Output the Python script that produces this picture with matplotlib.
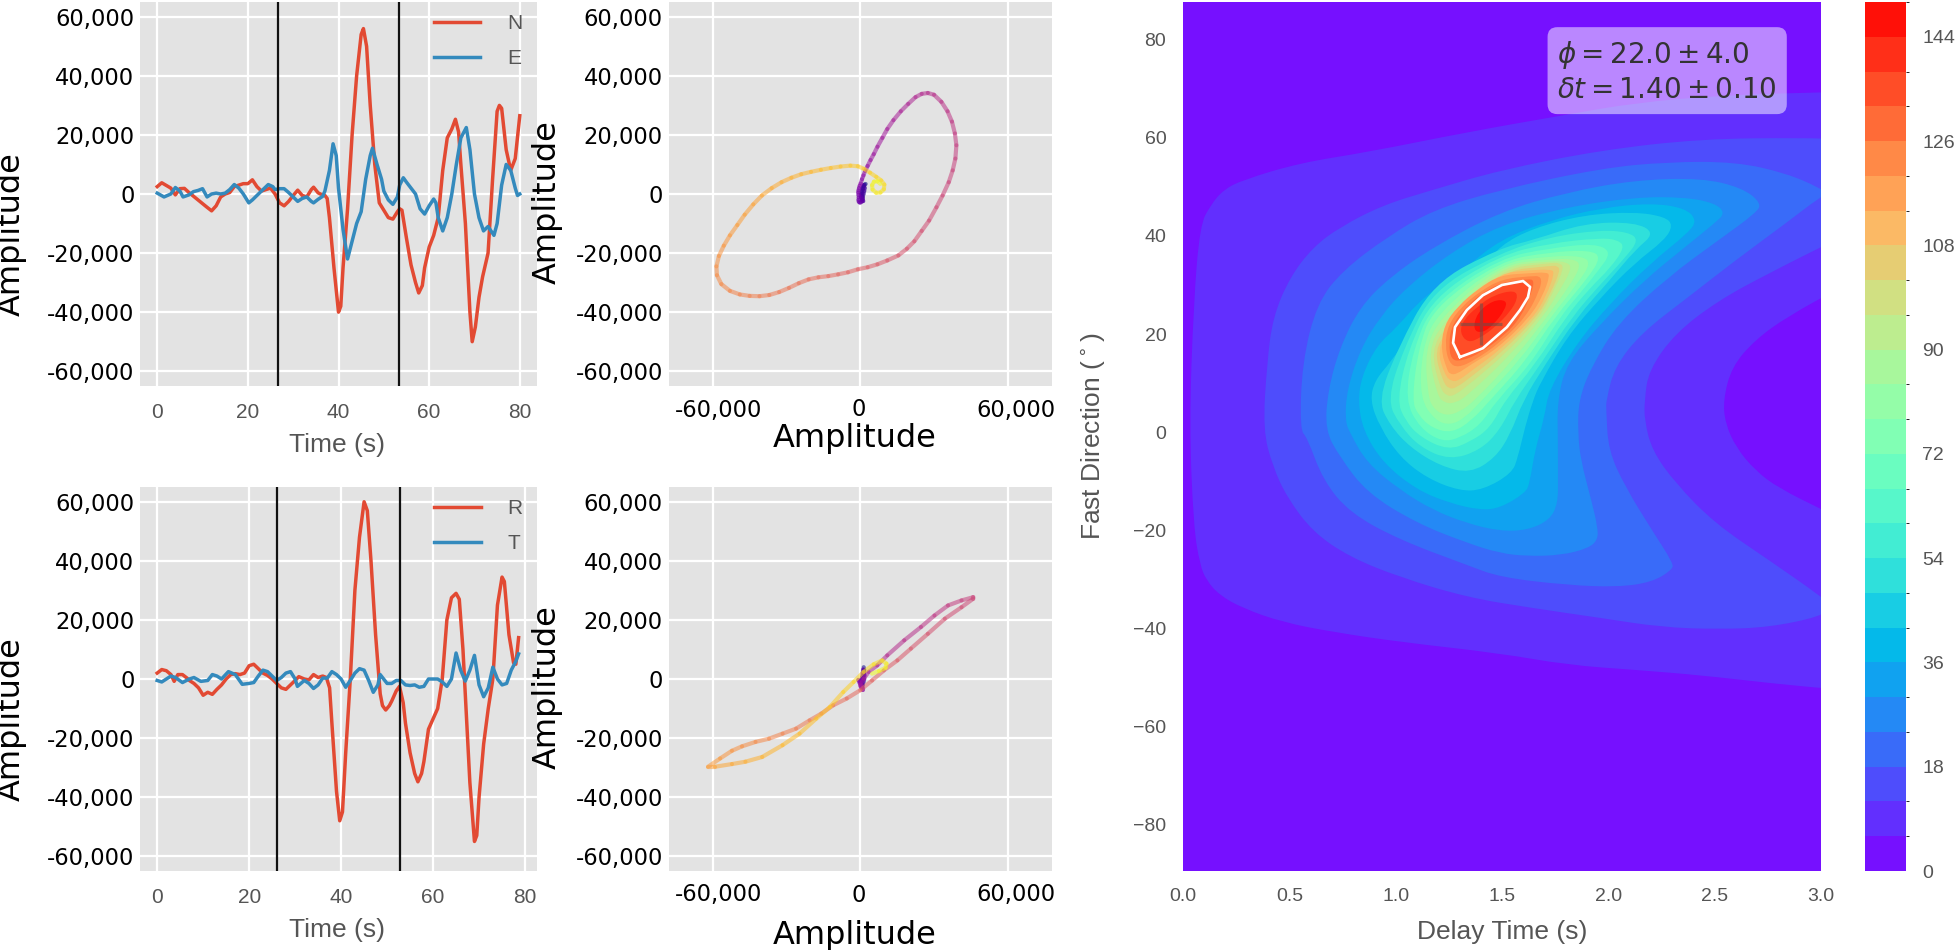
import numpy as np
import matplotlib
matplotlib.use('Agg')
import matplotlib.pyplot as plt
from matplotlib.cm import ScalarMappable
from matplotlib.collections import LineCollection
from matplotlib.colors import BoundaryNorm, ListedColormap
from matplotlib.patches import PathPatch
from matplotlib.path import Path
from matplotlib.transforms import ScaledTranslation

# waveforms
t_ne = [0, 1, 3, 4, 5, 6, 7, 9, 11, 12, 13, 14, 15, 16, 17, 19, 20, 21, 22, 23, 25, 26, 27, 28, 29, 30, 31, 32, 33, 34,
        34.5, 35.5, 36, 37, 37.5, 38, 39, 40, 40.5, 41, 42, 43, 44, 45, 45.5, 46.2, 47, 48, 49, 50, 51, 52, 53, 53.5, 54,
        55, 56, 57, 57.7, 58.5, 59, 60, 61, 62, 63, 64, 65, 65.8, 66.5, 67, 68, 69, 69.5, 70.2, 71, 71.8, 73, 74, 75, 75.5,
        76, 77, 78, 79, 80]
north = [2500, 3800, 2000, -300, 1800, 1900, 500, -2000, -4500, -5700, -4000, -1000, 0, 500, 2500, 3500, 3500, 4800, 2500,
         1000, 2000, 0, -3000, -4000, -2500, -500, 1300, -500, -1000, 1500, 2300, 400, 0, -500, -1500, -8000, -25000, -40000,
         -38000, -25000, -5000, 20000, 40000, 54000, 56000, 50000, 30000, 10000, -3000, -5500, -8000, -8500, -6000, -5000,
         -5500, -15000, -24000, -30000, -33500, -31000, -25000, -18000, -14000, -8000, 8000, 19000, 22000, 25300, 21000,
         10000, -10000, -40000, -50000, -45000, -35000, -28000, -20000, 5000, 28000, 30000, 29000, 15000, 8000, 12000, 26500]
t_e = [0, 1.5, 3, 4, 5, 5.7, 7, 8, 9, 10, 11, 12, 13, 14, 15, 16, 17, 18, 19, 20.2, 21, 22, 23, 24.5, 25.5, 26, 27, 28, 29, 30,
       31, 32, 33, 34, 34.5, 35.5, 36.5, 37, 38, 38.8, 39.5, 40, 41, 42, 43, 44, 45, 46, 47, 47.5, 48.5, 49.5, 50, 51, 52, 53,
       53.5, 54.3, 55, 56, 57, 58, 59, 60, 61, 61.5, 62, 63, 64, 65, 66, 67, 68.2, 69, 70, 71, 72, 73, 74.3, 75, 76, 77, 78, 79,
       79.5, 80]
east = [300, -1000, 0, 2200, 1000, -1000, -300, 800, 1200, 1800, -1000, 0, 300, 0, 300, 1500, 3200, 2000, 0, -3000, -2000,
        -500, 1000, 3200, 2500, 1500, 1800, 1800, 500, -1000, -2500, -1500, -1000, -2500, -3000, -1800, -800, 1000, 8000,
        17000, 13000, 2000, -12000, -22000, -16000, -10000, -6000, 5000, 13000, 15500, 10000, 5000, 1000, -2000, -3500, -1000,
        3000, 5500, 4000, 2000, 0, -5000, -6800, -4000, -1700, -3000, -8000, -12500, -8000, 0, 10000, 19000, 22500, 15000, 0,
        -8000, -12500, -11000, -14000, -10000, 3000, 10000, 8000, 2000, -500, 0]
t_r = [0, 1, 2, 3, 3.7, 4.5, 5.5, 6.5, 7, 8, 9, 10, 11, 12, 13, 14, 15, 16, 17, 18, 19, 20, 21, 22, 23, 24, 25, 26, 27, 28, 29,
       30, 30.8, 32, 33, 34, 35, 36, 36.8, 37.5, 38, 39, 39.7, 40.3, 41, 42, 43, 44, 45, 45.7, 46.5, 47.5, 48.5, 49, 49.7, 50.5,
       51, 52, 52.7, 53.5, 54, 55, 56, 56.7, 57.5, 58, 59, 60, 61, 62, 63, 64, 65, 65.7, 66.5, 67, 68, 69, 69.5, 70, 71, 72, 73,
       74, 75, 75.5, 76.5, 77.5, 78, 78.6]
radial = [2000, 3200, 2800, 1500, -800, 1500, 1500, 300, -500, -1500, -3000, -5500, -4500, -5200, -3500, -2000, 0, 1500, 1800,
          1500, 2000, 4500, 5000, 3500, 2000, 1200, 0, -1500, -3000, -3500, -2000, -500, 800, 0, -300, 1500, 500, 1000, 500,
          -3000, -15000, -38000, -48000, -45000, -25000, 0, 30000, 48000, 60000, 57000, 40000, 15000, -5000, -9000, -10500,
          -9000, -7500, -4000, -2500, -8000, -15000, -25000, -32000, -34800, -32000, -28000, -17000, -13500, -10000, 0, 20000,
          27500, 29000, 27000, 10000, -5000, -35000, -55000, -53000, -40000, -22000, -10000, 0, 25000, 34500, 33000, 15000,
          5500, 5000, 14000]
t_t = [0, 1, 2, 3, 4, 5.5, 7, 8, 9.5, 11, 12, 13, 14, 15.5, 17, 18.5, 20, 21, 22, 23, 24, 25, 26, 27, 28, 29, 30, 30.5, 32, 33,
       34, 35, 36, 37, 38, 39, 40, 41, 42, 43, 44, 45, 46, 47, 48, 48.5, 49, 50, 51, 52, 53, 54, 55, 56, 57, 58, 59, 60, 61, 62,
       63, 64, 65, 66, 67, 68, 69, 70, 71, 72, 73, 74, 75, 76, 77, 78, 78.6]
transverse = [-500, -1000, 0, 1000, 500, -1200, 0, 500, -800, -500, 1500, 1000, 0, 2500, 1500, -1800, -1500, -1200, 1000, 3000,
              2500, 1000, -500, 500, 2000, 2500, 0, -2500, -500, -1500, -3200, -2000, 300, 300, 2500, 1500, 0, -2800, -500,
              2000, 3500, 3000, -500, -4500, -2000, 1500, 500, -1500, -1500, -500, -500, -2000, -2200, -2000, -2800, -2500, 0,
              0, 0, -1000, -2500, 0, 8800, 3000, -700, 3000, 8000, -2000, -6000, -3000, 4000, 0, -2000, -1500, 3000, 6000, 8500]
window_ne = [26.6, 53.35]
window_rt = [26.1, 52.7]

# particle motion, in time order
pm_top_x = [2200, 1800, 1300, 900, 600, 400, 500, 800, 1000, 1300, 1600, 1800, 1500, 1000, 700, 900, 1200, 800, 300, 800, 800,
            300, -200, -600, -700, -600, -700, -800, -700, -500, -200, 200, 700, 1300, 2000, 3000, 4200, 5500, 7000, 9000,
            11000, 13500, 16500, 19500, 22500, 25000, 27500, 30000, 33000, 35500, 37300, 38500, 39100, 38700, 37600, 36000,
            33500, 31000, 28000, 25000, 22000, 19000, 15500, 11000, 7000, 3000, -1000, -5000, -9000, -13000, -17000, -21000,
            -25000, -29000, -33000, -37000, -41000, -45000, -49000, -53000, -56500, -58300, -58500, -57500, -55500, -53000,
            -50000, -47000, -43500, -40000, -36000, -32000, -28000, -24000, -20000, -16000, -12000, -8000, -4000, -1000, 1500,
            4000, 6500, 8500, 9800, 9600, 8200, 6500, 5000, 4800, 5600, 7000, 8200]
pm_top_y = [3400, 3200, 2600, 2000, 1000, 0, -1000, -1800, -1000, 0, 1000, 2000, 3000, 1500, 0, -1500, -2400, -2000, -1000, -1800,
            -2400, -2800, -2900, -2600, -2000, -1200, -300, 500, 1200, 2000, 2800, 3600, 5000, 6300, 7800, 9500, 11500, 13500,
            16000, 19000, 22000, 25000, 28000, 30500, 32800, 33900, 34200, 33600, 31200, 28000, 24500, 20500, 16500, 12000,
            8000, 4000, -500, -4500, -9000, -12500, -16000, -18500, -20800, -22500, -23800, -24800, -25500, -26500, -27200,
            -27800, -28200, -28900, -30200, -31800, -33200, -34200, -34600, -34500, -34000, -32800, -30500, -27500, -24500,
            -21000, -17500, -14000, -10500, -7000, -3500, -500, 2000, 4000, 5500, 6700, 7500, 8200, 8800, 9300, 9600, 9400,
            8500, 7200, 5800, 4600, 3200, 1600, 500, 400, 1500, 3000, 4200, 4300, 3400]
pm_bot_x = [1400, 1600, 1500, 1200, 900, 600, 500, 600, 1000, 1300, 1600, 1700, 1500, 1200, 1000, 700, 400, 200, -200, -800,
            -200, 500, 1000, 1000, 600, 200, 0, 1400, 3400, 6900, 11000, 17900, 24700, 30200, 35700, 41200, 46000, 46000,
            41200, 34400, 27500, 20600, 15100, 9600, 4800, 0, -5500, -11000, -15800, -20600, -26100, -31600, -37100, -42600,
            -48100, -52200, -57000, -61900, -59100, -52200, -46700, -39900, -31600, -24700, -17900, -12400, -6900, -2700,
            1400, 5500, 8900, 10700, 10300, 7600, 4800]
pm_bot_y = [4000, 3000, 2000, 1000, 0, -1000, -2000, -2800, -2000, -1000, 0, 1200, 2400, 3200, 2000, 500, -500, -1200, -800, -300,
            -1400, -2200, -3000, -3700, -3200, -2600, -2100, 100, 2400, 4600, 8000, 13100, 17600, 21500, 24900, 26600, 27700,
            27200, 24300, 20400, 15300, 10300, 6300, 2900, -500, -3800, -6600, -8900, -11700, -14000, -16800, -18500, -20200,
            -21300, -22800, -24300, -26900, -29700, -29700, -28800, -28000, -26400, -22400, -18500, -13400, -9500, -4400,
            -1000, 2400, 5000, 6300, 5200, 3800, 2700, 1800]

# misfit surface: one closed outline per contour level, (delay s, direction deg)
levels = list(range(0, 156, 6))
cbar_ticks = [0, 18, 36, 54, 72, 90, 108, 126, 144]
level_6 = [(.03, 1.6), (.05, 26.3), (.08, 42.2), (.13, 46.3), (.19, 49.4), (.28, 51.4), (.55, 54.9), (.87, 57.1), (1.34, 61.2),
           (1.80, 64.7), (2.12, 67.1), (2.53, 68.7), (3.1, 69.4), (3.3, 69.5), (3.3, 34), (3.1, 29.7), (2.84, 23.5), (2.69, 18.8),
           (2.58, 13.3), (2.54, 6.5), (2.55, 1.8), (2.60, -3.1), (2.69, -7.8), (2.80, -11.4), (3.01, -15.9), (3.2, -20), (3.3, -20),
           (3.3, -52.8), (3.1, -52.6), (2.76, -51.2), (2.44, -49.6), (2.13, -48.5), (1.81, -47.5), (1.49, -45.1), (1.02, -42.8),
           (.71, -40.8), (.47, -38.8), (.28, -35.9), (.17, -33.2), (.11, -30.2), (.08, -27.1), (.05, -19.4)]
level_12 = [(.376, .4), (.395, 14.1), (.423, 23.5), (.503, 31.6), (.611, 37.7), (.738, 41.8), (.94, 46.3), (1.175, 49.4),
            (1.49, 53.4), (1.965, 57.5), (2.44, 59.8), (2.915, 60), (3.1, 59.7), (3.3, 59.7), (3.3, 44), (3.1, 39.9), (2.755, 32.4),
            (2.52, 26.9), (2.315, 20.2), (2.19, 12.6), (2.17, 6.5), (2.17, 2.4), (2.205, -3.7), (2.315, -10.4), (2.50, -18.6),
            (2.755, -26.1), (3.0, -33.5), (3.05, -35.5), (3.0, -37.6), (2.755, -39.8), (2.52, -40.2), (2.25, -39.8), (1.965, -37.9),
            (1.645, -35.9), (1.335, -33.7), (1.02, -29.6), (.785, -25.5), (.611, -20.4), (.489, -13.3), (.423, -7.1)]
level_18 = [(.55, .4), (.56, 14.1), (.63, 26.3), (.752, 33), (.96, 39.8), (1.175, 45.3), (1.49, 49.4), (1.965, 53.8), (2.28, 55.1),
            (2.60, 55.1), (2.835, 52.8), (2.995, 49.8), (3.03, 48.5), (2.995, 47.9), (2.835, 42.6), (2.60, 35.1), (2.375, 27.5),
            (2.155, 20.2), (2.03, 13.3), (1.99, 6.5), (1.99, 4.5), (2.0, -3.7), (2.08, -11.2), (2.205, -20), (2.305, -26.7),
            (2.30, -28.1), (2.205, -30.6), (2.045, -31.6), (1.805, -31.2), (1.49, -29.6), (1.335, -27.1), (1.02, -22), (.785, -16.5),
            (.658, -9.8), (.583, -1)]
level_24 = [(.668, .4), (.682, 8.6), (.738, 17.3), (.832, 25.5), (.973, 31.6), (1.175, 37.7), (1.49, 44.9), (1.805, 48.9),
            (2.125, 51.4), (2.44, 51.8), (2.63, 49.8), (2.72, 46.7), (2.695, 44.7), (2.52, 39.2), (2.28, 31.6), (2.045, 22.2),
            (1.92, 13.3), (1.86, 6.5), (1.857, -.2), (1.87, -5.7), (1.92, -13.9), (1.95, -19.4), (1.95, -22), (1.905, -23.7),
            (1.78, -25.1), (1.62, -25.3), (1.49, -24.7), (1.335, -22.6), (1.10, -18.6), (.865, -12.4), (.738, -5.1)]
level_30 = [(.762, 2.4), (.771, 8.6), (.832, 16.7), (.926, 23.5), (1.053, 29.6), (1.255, 36.5), (1.49, 42.2), (1.805, 45.9),
            (2.125, 47.9), (2.36, 47.9), (2.50, 46.7), (2.55, 44.7), (2.50, 42.6), (2.36, 37.7), (2.17, 31), (1.965, 22.2),
            (1.805, 14.1), (1.76, 6.5), (1.763, -2.2), (1.763, -9.2), (1.763, -14.5), (1.725, -17.9), (1.62, -20), (1.49, -20.2),
            (1.335, -18.6), (1.175, -15.9), (1.02, -11.8), (.865, -6.3), (.785, -.2)]
level_36 = [(.823, 6.5), (.842, 11.6), (.912, 17.7), (1.006, 21.4), (1.128, 27.5), (1.335, 33.7), (1.49, 39.2), (1.726, 43.2),
            (1.965, 45.7), (2.20, 46.7), (2.36, 45.7), (2.417, 43.2), (2.375, 40.6), (2.20, 34.5), (2.01, 26.3), (1.853, 18.2),
            (1.72, 8.6), (1.70, 3.1), (1.655, -3.7), (1.63, -10.4), (1.61, -12.4), (1.49, -15.5), (1.397, -15.9), (1.255, -14.5),
            (1.10, -11.8), (.94, -6.3), (.846, .4)]
level_42 = [(.879, 6.5), (.903, 10.6), (.973, 14.1), (1.082, 20.8), (1.208, 26.3), (1.41, 33.4), (1.49, 38), (1.646, 41.6),
            (1.886, 44.3), (2.125, 44.9), (2.266, 43.9), (2.304, 42.2), (2.266, 39.2), (2.125, 34.5), (1.965, 27.5), (1.805, 19.4),
            (1.68, 10), (1.646, 6.5), (1.608, 1), (1.575, -5.1), (1.547, -8.4), (1.41, -11.8), (1.30, -12), (1.147, -9.4),
            (1.02, -5.1), (.926, 1)]
level_48 = [(.917, 6.5), (1.006, 16.7), (1.175, 30.4), (1.49, 37.5), (1.65, 39.2), (1.886, 42.6), (2.125, 42.8), (2.22, 40.6),
            (2.125, 37.1), (2.008, 31), (1.853, 23.5), (1.702, 13.7), (1.60, 6.5), (1.538, -.6), (1.467, -5.3), (1.35, -8.4),
            (1.208, -6.9), (1.067, -3.1), (.973, 1.4)]
level_54 = [(.96, 6.5), (1.034, 16.7), (1.175, 29), (1.49, 36.5), (1.726, 39.8), (1.96, 41.2), (2.092, 40.8), (2.144, 39.2),
            (2.078, 35.5), (1.96, 30), (1.829, 23.5), (1.679, 13.7), (1.561, 6.5), (1.49, .4), (1.397, -3.7), (1.255, -5.7),
            (1.114, -3.1), (1.02, 1.4)]
level_60 = [(1.006, 6.5), (1.058, 16.7), (1.175, 27.5), (1.49, 36.1), (1.726, 38.5), (1.96, 39.6), (2.045, 39.2), (2.078, 37.7),
            (2.008, 33.4), (1.914, 29.4), (1.80, 23.5), (1.655, 13.7), (1.514, 6.5), (1.444, .8), (1.35, -2), (1.246, -3.7),
            (1.114, -1), (1.044, 2.4)]
level_66 = [(1.044, 6.5), (1.081, 16.7), (1.175, 26.3), (1.49, 35.5), (1.726, 37.5), (1.937, 38.5), (2.017, 36.7), (1.947, 32.6),
            (1.867, 28.3), (1.773, 23.5), (1.632, 13.7), (1.476, 6.5), (1.397, 1.4), (1.302, -1.2), (1.218, -2), (1.114, .8)]
level_72 = [(1.077, 6.5), (1.105, 16.7), (1.175, 25.3), (1.49, 34.9), (1.726, 36.7), (1.914, 37.1), (1.966, 35.7), (1.904, 31.4),
            (1.749, 23.5), (1.608, 14.3), (1.444, 6.5), (1.359, 2.4), (1.265, -.2), (1.171, .8), (1.105, 3.5)]
level_78 = [(1.114, 6.9), (1.124, 16.7), (1.19, 24.1), (1.49, 34.5), (1.726, 35.9), (1.876, 35.9), (1.918, 34.5), (1.857, 30.4),
            (1.73, 23.5), (1.585, 14.7), (1.406, 6.5), (1.326, 2.9), (1.255, 1.4), (1.185, 2.4)]
level_84 = [(1.152, 7.5), (1.138, 16.7), (1.208, 23.3), (1.49, 34.1), (1.726, 35.3), (1.843, 35.3), (1.871, 33.9), (1.82, 30),
            (1.712, 23.5), (1.561, 15.1), (1.373, 6.5), (1.302, 4.1), (1.232, 3.3), (1.175, 4.9)]
level_90 = [(1.194, 7.5), (1.152, 16.7), (1.223, 22.4), (1.49, 33.7), (1.726, 34.9), (1.806, 34.7), (1.829, 33.4), (1.773, 29),
            (1.693, 23.5), (1.538, 15.7), (1.34, 7.5), (1.279, 5.9), (1.232, 5.9)]
level_96 = [(1.208, 9), (1.166, 16.7), (1.241, 21.8), (1.49, 33.2), (1.726, 34.5), (1.773, 34.5), (1.792, 33.4), (1.74, 28.6),
            (1.679, 23.5), (1.514, 15.9), (1.359, 10.2), (1.279, 7.5), (1.241, 7.3)]
level_102 = [(1.223, 10.2), (1.18, 16.7), (1.255, 21.2), (1.49, 32.8), (1.726, 33.9), (1.763, 33.9), (1.773, 32.8), (1.726, 28.1),
             (1.665, 23.5), (1.5, 16.3), (1.359, 11.4), (1.284, 9), (1.251, 8.8)]
level_108 = [(1.232, 11.6), (1.194, 16.7), (1.27, 22.4), (1.373, 27.3), (1.49, 32.4), (1.632, 33), (1.726, 33.2), (1.749, 32.6),
             (1.707, 27.7), (1.651, 23.5), (1.49, 16.7), (1.359, 12.6), (1.293, 10.4), (1.26, 10.4)]
level_114 = [(1.241, 12.8), (1.213, 16.7), (1.227, 21.8), (1.293, 25.7), (1.387, 29.2), (1.49, 32), (1.632, 32.4), (1.707, 32.6),
             (1.726, 32), (1.693, 27.9), (1.632, 23.5), (1.481, 17.1), (1.35, 13.7), (1.288, 11.8), (1.255, 11.8)]
level_120 = [(1.251, 14.1), (1.232, 17.7), (1.246, 21.8), (1.312, 25.7), (1.401, 28.8), (1.5, 31.2), (1.632, 31.8), (1.688, 31.8),
             (1.679, 29), (1.613, 23.5), (1.49, 18.2), (1.373, 14.7), (1.293, 13.1)]
level_126 = [(1.26, 14.7), (1.25, 18.2), (1.265, 21.8), (1.326, 25.3), (1.406, 28.4), (1.505, 30.6), (1.622, 31.2), (1.651, 31),
             (1.641, 28.6), (1.59, 23.5), (1.514, 19.8), (1.397, 16.1), (1.312, 14.5)]
level_132 = [(1.302, 15.3), (1.27, 18.2), (1.279, 21.4), (1.335, 24.9), (1.41, 27.9), (1.50, 30), (1.599, 30.8), (1.632, 29.6),
             (1.622, 27.5), (1.585, 24.9), (1.523, 21.4), (1.41, 17.1), (1.364, 16.3)]
level_138 = [(1.302, 20.2), (1.317, 22.8), (1.382, 25.5), (1.458, 27.9), (1.561, 29), (1.575, 27.3), (1.538, 24.5), (1.467, 21.4),
             (1.397, 19.2), (1.34, 18.2)]
level_144 = [(1.364, 20.8), (1.382, 24.3), (1.458, 26.9), (1.523, 26.9), (1.514, 24.9), (1.458, 21.8), (1.406, 20.2)]
outlines = [level_6, level_12, level_18, level_24, level_30, level_36, level_42, level_48, level_54, level_60, level_66, level_72,
            level_78, level_84, level_90, level_96, level_102, level_108, level_114, level_120, level_126, level_132, level_138,
            level_144]
best_fast = 22.0
best_lag = 1.40

amp_ticks = [-60000, -40000, -20000, 0, 20000, 40000, 60000]
amp_labels = ['-60,000', '-40,000', '-20,000', '0', '20,000', '40,000', '60,000']
pm_ticks = [-60000, 0, 60000]
pm_labels = ['-60,000', '0', '60,000']
time_ticks = [0, 20, 40, 60, 80]
lag_ticks = [0.0, 0.5, 1.0, 1.5, 2.0, 2.5, 3.0]
fast_ticks = [-80, -60, -40, -20, 0, 20, 40, 60, 80]

W, H = 1960, 950
ARIAL = 'Liberation Sans'
GREY = '#555555'
plt.rcParams['axes.unicode_minus'] = True


def axes_px(fig, x0, x1, y0, y1):
    # position in image pixels, y counted from the top
    return fig.add_axes([x0 / W, 1 - y1 / H, (x1 - x0) / W, (y1 - y0) / H])


def style_grey(ax):
    ax.set_facecolor('#E3E3E3')
    ax.grid(True, color='white', lw=1.6)
    ax.set_axisbelow(True)
    for s in ax.spines.values():
        s.set_visible(False)
    ax.tick_params(length=0)


def setup_wave(ax, xlim):
    style_grey(ax)
    ax.set_xlim(xlim)
    ax.set_ylim(-65000, 65000)
    ax.set_xticks(time_ticks)
    ax.set_yticks(amp_ticks)
    ax.set_yticklabels(amp_labels, fontsize=16.3, color='black')
    ax.set_xticklabels([str(v) for v in time_ticks], fontsize=15, color=GREY, family=ARIAL)
    ax.tick_params(axis='x', pad=12)
    ax.tick_params(axis='y', pad=4)
    ax.set_xlabel('Time (s)', fontsize=19, color=GREY, family=ARIAL)
    ax.xaxis.set_label_coords(0.497, -0.122)
    ax.set_ylabel('Amplitude', fontsize=23, color='black')
    ax.yaxis.set_label_coords(-0.285, 0.395)


def setup_pm(ax, label_y):
    style_grey(ax)
    ax.set_xlim(-78000, 78000)
    ax.set_ylim(-65000, 65000)
    ax.set_xticks(pm_ticks)
    ax.set_yticks(amp_ticks)
    ax.set_xticklabels(pm_labels, fontsize=16.3, color='black')
    ax.set_yticklabels(amp_labels, fontsize=16.3, color='black')
    ax.tick_params(axis='x', pad=9)
    ax.tick_params(axis='y', pad=4)
    # the outer x labels sit a little right of their grid lines
    for lab, dx in zip(ax.get_xticklabels(), [6, -2, 8]):
        lab.set_transform(lab.get_transform() + ScaledTranslation(dx / 100, 0, ax.figure.dpi_scale_trans))
    ax.set_xlabel('Amplitude', fontsize=23, color='black')
    ax.xaxis.set_label_coords(0.485, label_y)
    ax.set_ylabel('Amplitude', fontsize=23, color='black')
    ax.yaxis.set_label_coords(-0.275, 0.48)


def draw_pm(ax, xs, ys):
    pts = np.column_stack([xs, ys])
    segs = np.stack([pts[:-1], pts[1:]], axis=1)
    lc = LineCollection(segs, cmap='plasma', linewidths=3.0, alpha=0.55, capstyle='round', zorder=3)
    lc.set_array(np.arange(len(segs)))
    ax.add_collection(lc)


def smooth_closed(points):
    # closed quadratic spline, the outline points are its control points
    p = np.array(points, dtype=float)
    mids = (p + np.roll(p, -1, axis=0)) / 2
    verts = [mids[-1]]
    codes = [Path.MOVETO]
    for ctrl, end in zip(p, mids):
        verts += [ctrl, end]
        codes += [Path.CURVE3, Path.CURVE3]
    return Path(verts, codes)


fig = plt.figure(figsize=(W / 100, H / 100), dpi=100)

ax_ne = axes_px(fig, 140, 537, 2, 386)
ax_rt = axes_px(fig, 140, 537, 487, 871)
ax_pm1 = axes_px(fig, 668.5, 1052, 2, 386)
ax_pm2 = axes_px(fig, 668.5, 1052, 487, 871)
ax_map = axes_px(fig, 1183, 1821, 2, 871)
cax = axes_px(fig, 1865, 1905.5, 2, 871)

setup_wave(ax_ne, (-3.8, 83.8))
ax_ne.plot(t_ne, north, color='#E24A33', lw=2.5, label='N')
ax_ne.plot(t_e, east, color='#348ABD', lw=2.5, label='E')
for v in window_ne:
    ax_ne.axvline(v, color='#111111', lw=1.6)

setup_wave(ax_rt, (-3.73, 82.6))
ax_rt.plot(t_r, radial, color='#E24A33', lw=2.5, label='R')
ax_rt.plot(t_t, transverse, color='#348ABD', lw=2.5, label='T')
for v in window_rt:
    ax_rt.axvline(v, color='#111111', lw=1.6)

for ax in (ax_ne, ax_rt):
    leg = ax.legend(loc='upper right', frameon=False, fontsize=15, prop={'family': ARIAL, 'size': 15}, handlelength=2.25,
                    handletextpad=1.3, labelspacing=0.75, bbox_to_anchor=(0.985, 0.99), borderaxespad=0)
    for txt in leg.get_texts():
        txt.set_color(GREY)

setup_pm(ax_pm1, -0.096)
draw_pm(ax_pm1, pm_top_x, pm_top_y)
setup_pm(ax_pm2, -0.128)
draw_pm(ax_pm2, pm_bot_x, pm_bot_y)

# 25 flat bands of rainbow, as a filled contour gives them
band_vals = (np.array(levels[:-1]) + 3) / levels[-1]
band_cmap = ListedColormap(plt.get_cmap('rainbow')(band_vals))
band_norm = BoundaryNorm(levels, band_cmap.N)

ax_map.set_facecolor(band_cmap(0))
for i, outline in enumerate(outlines):
    ax_map.add_patch(PathPatch(smooth_closed(outline), facecolor=band_cmap(i + 1), edgecolor='none', lw=0))
ax_map.set_xlim(0, 3)
ax_map.set_ylim(-89.5, 87.7)
ax_map.set_xticks(lag_ticks)
ax_map.set_yticks(fast_ticks)
ax_map.set_xticklabels(['%.1f' % v for v in lag_ticks], fontsize=14, color=GREY, family=ARIAL)
ax_map.set_yticklabels(['\u2212%d' % -v if v < 0 else '%d' % v for v in fast_ticks], fontsize=14, color=GREY, family=ARIAL)
ax_map.tick_params(length=0)
ax_map.tick_params(axis='x', pad=12)
ax_map.tick_params(axis='y', pad=12)
for s in ax_map.spines.values():
    s.set_visible(False)
ax_map.set_xlabel('Delay Time (s)', fontsize=19, color=GREY, family=ARIAL)
ax_map.xaxis.set_label_coords(0.5, -0.056)
ax_map.set_ylabel(r'Fast Direction ($^\circ$)', fontsize=19, color=GREY, family=ARIAL)
ax_map.yaxis.set_label_coords(-0.119, 0.5)

white = np.array(level_132 + level_132[:1])
ax_map.plot(white[:, 0], white[:, 1], color='white', lw=1.9, zorder=4)
ax_map.plot(best_lag, best_fast, '+', color='#555555', alpha=0.5, ms=30, mew=2.3, zorder=5)
ax_map.text(1.76, 73.5, '$\\phi = %.1f \\pm %.1f$\n$\\delta t = %.2f \\pm %.2f$' % (best_fast, 4.0, best_lag, 0.10),
            fontsize=20, color='#333333', va='center', ha='left', zorder=6, linespacing=1.25,
            bbox=dict(boxstyle='round,pad=0.35', facecolor='white', edgecolor='none', alpha=0.5))

sm = ScalarMappable(norm=band_norm, cmap=band_cmap)
cb = fig.colorbar(sm, cax=cax, ticks=cbar_ticks, spacing='proportional')
cb.outline.set_visible(False)
cb.ax.tick_params(length=0, pad=12)
cb.ax.set_yticklabels([str(v) for v in cbar_ticks], fontsize=14, color=GREY, family=ARIAL)

fig.savefig('out.png', dpi=100)
